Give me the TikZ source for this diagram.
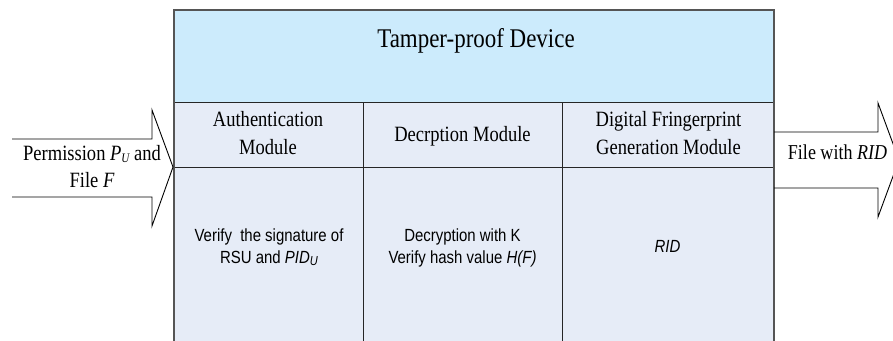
\documentclass[tikz,border=0pt]{standalone}
\usepackage{fontspec}
\setmainfont{Liberation Serif}[FakeStretch=0.85]
\newfontfamily\bodyfont{Liberation Sans}[FakeStretch=0.85]
\definecolor{headfill}{HTML}{CCEBFC}
\definecolor{modfill}{HTML}{E6ECF7}
\definecolor{framegray}{HTML}{555555}
\newcommand{\subU}{\raisebox{-1.5pt}{\fontsize{13}{13}\selectfont\itshape U}}
\begin{document}
\begin{tikzpicture}[x=1pt,y=-1pt,
  frameline/.style={draw=framegray,line width=1.5pt},
  gridline/.style={draw=black!85,line width=0.9pt},
  arrowline/.style={draw=black,line width=0.9pt,line join=miter},
  textbase/.style={inner sep=0pt,align=center,text depth=0pt,anchor=south},
  titletext/.style={textbase,font=\fontsize{27}{30}\selectfont},
  headtext/.style={textbase,font=\fontsize{21.8}{28}\selectfont},
  bodytext/.style={textbase,font=\bodyfont\fontsize{17.6}{22}\selectfont},
  flowtext/.style={textbase,font=\fontsize{21.8}{27}\selectfont}]
\useasboundingbox (0,0) rectangle (893,340);
\clip (0,0) rectangle (893,340);

% device body: module area and header band
\fill[modfill] (174,102) rectangle (774,350);
\fill[headfill] (174,10) rectangle (774,102);

% table rules
\draw[gridline] (174,102) -- (774,102);
\draw[gridline] (174,167) -- (774,167);
\draw[gridline] (363,102) -- (363,350);
\draw[gridline] (562,102) -- (562,350);
\draw[frameline] (174,350) -- (174,10) -- (774,10) -- (774,350);

% header (south of each node sits on its last baseline)
\node[titletext] (title) at (476,48) {Tamper-proof Device};

% module names
\node[headtext] (authname) at (268,155) {Authentication\\Module};
\node[headtext] (decname) at (462.5,142) {Decrption Module};
\node[headtext] (fpname) at (668.5,155) {Digital Fringerprint\\Generation Module};

% module operations
\node[bodytext] (authop) at (269,264) {Verify\ \ the signature of\\RSU and {\itshape PID}\subU};
\node[bodytext] (decop) at (462.5,263.5) {Decryption with K\\Verify hash value {\itshape H(F)}};
\node[bodytext] (fpop) at (667.5,253) {\itshape RID};

% input arrow
\draw[arrowline] (12,139) -- (152,139) -- (152,110) -- (173,167)
  -- (152,226) -- (152,197) -- (12,197);
\node[flowtext] (input) at (92,188) {Permission {\itshape P}\subU{} and\\File {\itshape F}};

% output arrow
\draw[arrowline] (774,132) -- (878,132) -- (878,103) -- (899,160)
  -- (878,217) -- (878,188) -- (774,188);
\node[flowtext,font=\fontsize{21.2}{27}\selectfont] (output) at (837.5,160) {File with {\itshape RID}};
\end{tikzpicture}
\end{document}
